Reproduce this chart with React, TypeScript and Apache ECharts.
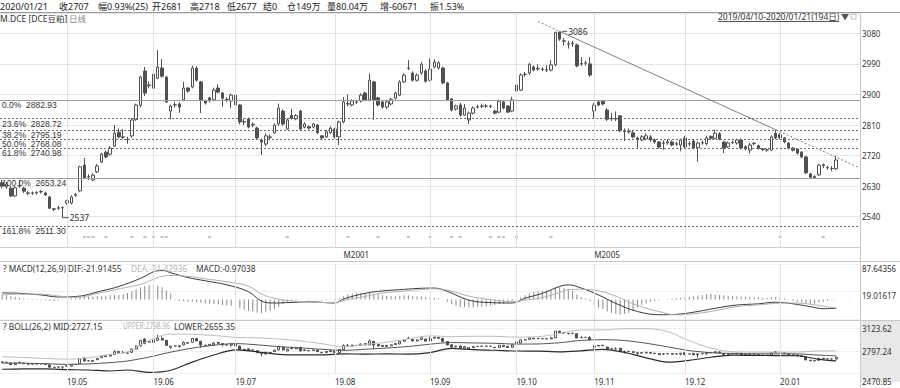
import React, { useEffect, useRef } from "react";
import * as echarts from "echarts";

// ---------------- data ----------------
const SLOTS = 199; // 194 trading days + empty room on the right
const opens = [2640,2628,2624,2601,2631,2624,2610,2609,2611,2613,
 2610,2598,2563,2565,2566,2580,2580,2603,2616,2692,
 2657,2648,2672,2701,2730,2724,2748,2789,2775,2768,
 2778,2826,2868,2969,2928,2918,2948,2978,2951,2851,
 2869,2872,2884,2919,2922,2978,2937,2881,2890,2884,
 2919,2904,2885,2881,2898,2869,2820,2828,2812,2801,
 2766,2754,2773,2787,2813,2851,2798,2839,2828,2851,
 2804,2805,2804,2810,2778,2775,2787,2798,2775,2819,
 2873,2869,2877,2881,2904,2884,2937,2890,2878,2863,
 2872,2889,2898,2937,2977,2963,2942,2963,2969,2942,
 2981,2978,2978,2934,2887,2857,2869,2839,2825,2845,
 2863,2865,2866,2865,2851,2848,2878,2866,2851,2928,
 2913,2959,2963,2981,2975,2975,2973,2972,2987,3084,
 3058,3049,3051,3046,2990,2992,2990,2851,2878,2880,
 2854,2829,2828,2837,2793,2790,2787,2772,2766,2769,
 2775,2766,2760,2757,2757,2760,2754,2751,2772,2754,
 2763,2743,2757,2755,2776,2771,2784,2760,2746,2758,
 2757,2766,2746,2736,2756,2749,2739,2736,2736,2786,
 2781,2772,2757,2742,2739,2730,2716,2666,2658,2663,
 2690,2684,2682,2681];
const closes = [2630,2636,2601,2625,2630,2615,2609,2610,2610,2614,
 2604,2565,2562,2566,2567,2587,2598,2605,2687,2654,
 2658,2662,2689,2724,2716,2742,2786,2775,2774,2766,
 2825,2869,2951,2904,2926,2960,2981,2954,2878,2866,
 2870,2863,2919,2910,2978,2942,2884,2875,2881,2913,
 2907,2889,2884,2898,2869,2819,2819,2804,2810,2772,
 2760,2778,2775,2810,2860,2813,2825,2830,2838,2798,
 2813,2801,2813,2787,2772,2790,2801,2775,2819,2878,
 2872,2881,2878,2898,2884,2942,2884,2869,2863,2878,
 2886,2904,2937,2957,2978,2942,2957,2989,2939,2975,
 2995,2993,2934,2884,2854,2866,2839,2860,2845,2860,
 2864,2866,2866,2866,2845,2880,2860,2848,2884,2910,
 2957,2960,2989,2972,2977,2974,2972,2987,3083,3063,
 3057,3048,3050,2984,2991,2993,2957,2869,2869,2872,
 2827,2828,2829,2793,2791,2792,2775,2766,2775,2778,
 2766,2760,2745,2756,2761,2751,2755,2766,2745,2755,
 2742,2757,2758,2772,2771,2786,2769,2742,2757,2759,
 2766,2742,2739,2751,2755,2741,2738,2737,2775,2772,
 2772,2760,2742,2736,2727,2716,2669,2656,2655,2692,
 2693,2685,2682,2707];
const lows = [2624,2622,2598,2598,2625,2610,2603,2604,2605,2608,
 2601,2562,2556,2560,2537,2575,2576,2598,2612,2650,
 2648,2645,2668,2698,2712,2720,2745,2770,2768,2755,
 2772,2822,2862,2895,2918,2884,2945,2950,2875,2827,
 2862,2846,2880,2905,2918,2938,2845,2870,2876,2880,
 2903,2864,2878,2859,2865,2812,2810,2800,2804,2768,
 2722,2748,2768,2784,2808,2808,2795,2826,2824,2795,
 2800,2796,2800,2784,2767,2772,2784,2770,2751,2815,
 2866,2865,2872,2876,2880,2880,2825,2865,2858,2857,
 2868,2885,2895,2934,2972,2938,2938,2958,2935,2938,
 2977,2974,2930,2880,2850,2852,2835,2836,2813,2841,
 2858,2860,2861,2860,2841,2845,2856,2845,2848,2900,
 2910,2952,2958,2968,2970,2969,2966,2968,2983,3058,
 3045,3035,3040,2980,2984,2985,2952,2831,2865,2868,
 2822,2822,2822,2789,2763,2785,2771,2743,2762,2765,
 2760,2755,2740,2737,2752,2747,2748,2733,2741,2748,
 2738,2702,2752,2750,2767,2768,2765,2727,2742,2754,
 2752,2738,2735,2726,2750,2738,2733,2731,2733,2768,
 2768,2756,2738,2732,2723,2712,2665,2653,2653,2660,
 2683,2678,2674,2677];
const highs = [2648,2642,2630,2630,2648,2628,2615,2614,2615,2618,
 2614,2601,2566,2572,2570,2590,2603,2610,2690,2713,
 2665,2668,2695,2728,2735,2748,2810,2800,2798,2775,
 2830,2873,2955,2981,2938,2963,3031,3004,2955,2870,
 2878,2877,2937,2922,2985,2983,2940,2885,2893,2920,
 2930,2908,2892,2903,2946,2872,2828,2832,2818,2805,
 2770,2785,2782,2815,2873,2856,2830,2858,2842,2855,
 2818,2808,2816,2813,2780,2795,2806,2802,2823,2892,
 2900,2886,2884,2903,2908,2962,2940,2893,2881,2884,
 2890,2908,2942,2962,3001,2968,2962,2995,2975,3006,
 3004,2998,2982,2937,2890,2870,2875,2872,2850,2865,
 2870,2873,2871,2870,2855,2885,2882,2869,2893,2932,
 2962,2966,2993,2986,2989,2980,2986,3001,3085,3086,
 3066,3058,3058,3050,3010,3000,3010,2875,2883,2884,
 2860,2845,2850,2840,2800,2800,2792,2776,2780,2785,
 2780,2770,2763,2765,2768,2765,2760,2770,2778,2762,
 2767,2762,2764,2778,2780,2796,2789,2763,2762,2764,
 2770,2770,2750,2757,2760,2752,2742,2740,2780,2796,
 2786,2775,2760,2745,2742,2733,2719,2669,2662,2695,
 2697,2690,2689,2718];

const monthStartIdx = [15, 35, 54, 77, 99, 119, 137, 158, 180];
const monthLabels = ["19.05", "19.06", "19.07", "19.08", "19.09", "19.10", "19.11", "19.12", "20.01"];
const rollIdx = [79, 137];
const rollLabels = ["M2001", "M2005"];

const fibPcts = ["0.0%", "23.6%", "38.2%", "50.0%", "61.8%", "100.0%", "161.8%"];
const fibLevels = [2882.93, 2828.72, 2795.19, 2768.08, 2740.98, 2653.24, 2511.3];
const fibSolid = [true, false, false, false, false, true, false];

const trendPoints = [[124, 3115], [129, 3086], [179, 2796], [198, 2686]];
const highMark = { idx: 129, value: 3086 };
const lowMark = { idx: 14, value: 2537 };

const eventIdx = [19, 20, 21, 24, 30, 33, 35, 37, 38, 48, 66, 80, 87, 94, 99, 104, 106, 113, 115, 116, 119, 127, 180, 190];
const EVENT_LEVEL = 2480;

const macdHist = [12,10,8,6,4,2,1,1,-1,-2,
 -3,-4,-4,-3,-1,1,3,4,6,7,
 7,7,8,8,9,10,11,11,13,16,
 20,25,30,33,35,36,34,30,22,14,
 -2,-4,-5,-6,-5,-7,-9,-10,-11,-12,
 -12,-14,-15,-16,-18,-22,-25,-28,-30,-33,
 -34,-32,-28,-24,-18,-12,-7,-4,-2,-1,
 0,1,0,-1,-2,-2,-1,-2,2,8,
 12,14,15,16,15,17,14,12,10,9,
 8,8,9,10,10,8,7,7,5,5,
 4,3,0,-6,-12,-15,-18,-19,-20,-20,
 -19,-18,-17,-15,-14,-12,-10,-8,-6,2,
 6,10,15,18,20,21,22,22,28,30,
 28,24,20,12,6,3,-4,-15,-20,-24,
 -30,-33,-36,-38,-36,-33,-28,-20,-14,-10,
 -6,-4,-2,0,1,2,3,4,5,6,
 7,9,11,13,14,12,11,10,9,9,
 8,7,6,6,5,5,4,4,5,6,
 5,3,1,-4,-6,-8,-11,-12,-11,-8,
 -6,-4,-2,-0.97038];
const difIdx = [0,4,9,13,17,23,27,32,35,37,39,43,47,52,57,60,63,66,71,77,79,84,88,92,96,100,103,108,113,118,121,125,129,131,134,138,142,147,152,156,161,165,170,175,179,183,187,190,193];
const difVals = [16,15,11,6,7,21,32,52,68,72,66,54,46,36,19,-4,-9,-8,-6,-9,1,15,21,24,27,28,20,-2,-8,-9,3,15,32,36,28,11,-10,-30,-38,-37,-30,-22,-14,-11,-7,-11,-18,-23,-21.91455];
const deaVals = [11,13,13,8.5,5,17,26,37,50,57,59,57,51,43.5,33,13,3,-3,-6.5,-8,-3,7.5,16,19.5,23.5,26,23,8,-0.5,-6,-2,4.5,17,24,25,21,8,-15,-30,-38.5,-34.5,-28,-18,-13.5,-10,-9,-12,-17,-21.42936];

const bollIdx = [0,5,10,15,20,25,29,34,39,44,49,54,59,64,69,74,79,84,89,94,99,104,109,114,119,124,129,134,139,144,149,154,159,164,169,174,179,184,189,193];
const bollMid = [2625,2622,2615,2605,2612,2630,2654,2710,2781,2838,2880,2904,2886,2860,2842,2822,2806,2822,2840,2862,2895,2919,2913,2908,2897,2899,2916,2950,2960,2948,2909,2857,2803,2773,2762,2757,2756,2755,2738,2727.15];
const bollUpper = [2715,2705,2690,2680,2700,2750,2784,2950,3041,3038,3020,2994,2986,2970,2942,2902,2856,2892,2924,2972,3015,3003,3009,3008,2997,3003,3046,3100,3100,3118,3119,3077,2943,2839,2786,2781,2780,2781,2798,2798.96];
const bollLower = [2535,2539,2540,2530,2524,2510,2524,2490,2521,2638,2740,2814,2786,2750,2742,2742,2756,2752,2756,2752,2775,2835,2817,2808,2797,2795,2786,2800,2820,2778,2699,2637,2663,2707,2738,2733,2732,2729,2678,2655.35];

const headerItems = ["2020/01/21", "收2707", "幅0.93%(25)", "开2681", "高2718", "低2677", "结0", "仓149万", "量80.04万", "增-60671", "振1.53%"];
const titleMain = "M.DCE [DCE豆粕]";
const titlePeriod = "日线";
const rangeText = "2019/04/10-2020/01/21(194日)";
const macdTitle = ["? MACD(12,26,9) DIF:-21.91455", "DEA:-21.42936", "MACD:-0.97038"];
const bollTitle = ["? BOLL(26,2) MID:2727.15", "UPPER:2798.96", "LOWER:2655.35"];
const bollBottomLabel = "2470.85";

// ---------------- layout ----------------
const FONT = "'Noto Sans', 'Noto Sans CJK SC', sans-serif";
const FIB_FONT = "'Liberation Sans', Arial, sans-serif";
const headerX = [0, 59, 98, 152, 190, 227, 263, 287, 327, 380, 430];
const macdTitleX = [3, 131, 196];
const bollTitleX = [3, 123, 174];

export default function App() {
  const ref = useRef<HTMLDivElement>(null);
  useEffect(() => {
    const chart = echarts.init(ref.current as HTMLDivElement, undefined, { renderer: "svg" });
    const xData = Array.from({ length: SLOTS }, (_, i) => String(i));
    const kData = opens.map((o, i) => [o, closes[i], lows[i], highs[i]]);

    const monthLines = monthStartIdx.map((i) => ({
      xAxis: i,
      lineStyle: { color: "#e2e2e2", type: "solid", width: 1 },
      label: { show: false },
    }));
    const fibLines = fibLevels.map((lv, k) => ({
      yAxis: lv,
      lineStyle: fibSolid[k]
        ? { color: "#a0a0a0", type: "solid", width: 1 }
        : { color: "#6a6a6a", type: [2, 2], width: 1 },
      label: {
        show: true,
        position: "insideStartBottom",
        formatter: fibPcts[k] + "  " + lv.toFixed(2),
        color: "#333",
        fontSize: 8.5,
        lineHeight: 8,
        fontFamily: FIB_FONT,
        distance: [2, 1],
      },
    }));
    const segStyle = (dotted: boolean) => ({ color: "#808080", width: 1, type: dotted ? [2, 2] : "solid" });
    const trendSegs = [0, 1, 2].map((k) => {
      const st = segStyle(k !== 1);
      return [
        { coord: trendPoints[k], lineStyle: st, label: { show: false } },
        { coord: trendPoints[k + 1], lineStyle: st, label: { show: false } },
      ];
    });

    const txt = (text: string, x: number, y: number, fill = "#222", fontSize = 9, scaleX = 1) => ({
      type: "text",
      x,
      y,
      scaleX,
      silent: true,
      style: { text, fill, fontSize, fontFamily: FONT, verticalAlign: "middle", align: "left" },
      z: 100,
    });
    const hline = (y: number, x1: number, x2: number, color: string) => ({
      type: "line",
      silent: true,
      shape: { x1, y1: y, x2, y2: y },
      style: { stroke: color, lineWidth: 1 },
      z: 50,
    });

    const graphic: any[] = [
      { type: "rect", silent: true, z: -10, shape: { x: 860, y: 320, width: 40, height: 62 }, style: { fill: "#e8e8e8" } },
      hline(12.5, 0, 900, "#9a9a9a"),
      hline(261.5, 0, 900, "#c8c8c8"),
      hline(320.5, 0, 900, "#c8c8c8"),
      { type: "line", silent: true, z: 50, shape: { x1: 860.5, y1: 12, x2: 860.5, y2: 388 }, style: { stroke: "#c8c8c8", lineWidth: 1 } },
      ...headerItems.map((t, k) => txt(t, headerX[k], 6, "#222", 9)),
      txt(titleMain, 0, 18.5, "#333", 8.5),
      txt(titlePeriod, 69, 18.5, "#888", 8.5),
      txt(rangeText, 718, 16.5, "#333", 8.5),
      hline(21.5, 718, 839, "#555"),
      txt("▼", 841, 16.5, "#555", 8),
      { type: "rect", silent: true, z: 50, shape: { x: 851, y: 14, width: 5, height: 5 }, style: { fill: "#fff", stroke: "#bbb", lineWidth: 1 } },
      txt(macdTitle[0], macdTitleX[0], 268, "#333", 8.3),
      txt(macdTitle[1], macdTitleX[1], 268, "#b5b5b5", 8.3),
      txt(macdTitle[2], macdTitleX[2], 268, "#333", 8.3),
      txt(bollTitle[0], bollTitleX[0], 326, "#333", 8.3),
      txt(bollTitle[1], bollTitleX[1], 326, "#b5b5b5", 8.3, 0.8),
      txt(bollTitle[2], bollTitleX[2], 326, "#333", 8.3),
      txt(bollBottomLabel, 862, 381, "#333", 8),
    ];

    const catAxisBase = {
      type: "category",
      data: xData,
      boundaryGap: true,
      axisTick: { show: false },
      splitLine: { show: false },
    };
    const axisText = { color: "#333", fontSize: 8, fontFamily: FONT };

    const option: any = {
      animation: false,
      backgroundColor: "#ffffff",
      textStyle: { fontFamily: FONT },
      grid: [
        { left: 0, right: 40, top: 13, height: 234.2 },
        { left: 0, right: 40, top: 264, height: 55.4 },
        { left: 0, right: 40, top: 320, height: 53.7 },
      ],
      xAxis: [
        {
          ...catAxisBase,
          gridIndex: 0,
          axisLine: { show: true, lineStyle: { color: "#cfcfcf" } },
          axisLabel: {
            ...axisText,
            interval: (i: number) => rollIdx.includes(i),
            formatter: (_v: string, i: number) => rollLabels[rollIdx.indexOf(i)] || "",
            align: "left",
            margin: 3,
          },
        },
        { ...catAxisBase, gridIndex: 1, axisLine: { show: false }, axisLabel: { show: false } },
        {
          ...catAxisBase,
          gridIndex: 2,
          axisLine: { show: false },
          axisLabel: {
            ...axisText,
            interval: (i: number) => monthStartIdx.includes(i),
            formatter: (_v: string, i: number) => monthLabels[monthStartIdx.indexOf(i)] || "",
            align: "left",
            margin: 4,
          },
        },
      ],
      yAxis: [
        {
          gridIndex: 0,
          type: "value",
          position: "right",
          min: 2450,
          max: 3140,
          interval: 90,
          axisLine: { show: false },
          axisTick: { show: false },
          axisLabel: { ...axisText, margin: 2, showMinLabel: false, showMaxLabel: false, formatter: (v: number) => String(Math.round(v)) },
          splitLine: { lineStyle: { color: "#e6e6e6" } },
        },
        {
          gridIndex: 1,
          type: "value",
          position: "right",
          min: -49.61122,
          max: 87.64356,
          interval: 68.62739,
          axisLine: { show: false },
          axisTick: { show: false },
          axisLabel: { ...axisText, margin: 2, verticalAlign: "top", showMinLabel: false, formatter: (v: number) => v.toFixed(5) },
          splitLine: { lineStyle: { color: "#efefef" } },
        },
        {
          gridIndex: 2,
          type: "value",
          position: "right",
          min: 2470.85,
          max: 3242.96,
          interval: 326.386,
          axisLine: { show: false },
          axisTick: { show: false },
          axisLabel: { ...axisText, margin: 2, showMinLabel: false, showMaxLabel: false, formatter: (v: number) => v.toFixed(2) },
          splitLine: { lineStyle: { color: "#efefef" } },
        },
      ],
      series: [
        {
          type: "candlestick",
          xAxisIndex: 0,
          yAxisIndex: 0,
          data: kData,
          barWidth: 3,
          itemStyle: { color: "#ffffff", color0: "#505050", borderColor: "#505050", borderColor0: "#505050", borderWidth: 1 },
          markLine: {
            silent: true,
            symbol: ["none", "none"],
            label: { show: false },
            data: [...monthLines, ...fibLines, ...trendSegs],
          },
          markPoint: {
            silent: true,
            data: [
              {
                coord: [highMark.idx, highMark.value],
                symbol: "rect",
                symbolSize: [5, 1],
                symbolOffset: [5, 0],
                itemStyle: { color: "#555" },
                label: { show: true, position: "right", distance: 1, formatter: String(highMark.value), color: "#333", fontSize: 8.5, fontFamily: FONT },
              },
              {
                coord: [lowMark.idx, lowMark.value],
                symbol: "rect",
                symbolSize: [6, 1],
                symbolOffset: [3, 0],
                itemStyle: { color: "#555" },
                label: { show: true, position: "right", distance: 1, formatter: String(lowMark.value), color: "#333", fontSize: 8.5, fontFamily: FONT },
              },
            ],
          },
        },
        {
          type: "scatter",
          xAxisIndex: 0,
          yAxisIndex: 0,
          silent: true,
          symbol: "rect",
          symbolSize: [3, 1.5],
          itemStyle: { color: "#9a9a9a" },
          data: eventIdx.map((i) => [i, EVENT_LEVEL]),
        },
        {
          type: "bar",
          xAxisIndex: 1,
          yAxisIndex: 1,
          barWidth: 1,
          silent: true,
          itemStyle: { color: "#8a8a8a" },
          data: macdHist,
          markLine: { silent: true, symbol: ["none", "none"], label: { show: false }, data: monthLines },
        },
        {
          type: "line",
          xAxisIndex: 1,
          yAxisIndex: 1,
          showSymbol: false,
          smooth: 0.4,
          silent: true,
          lineStyle: { color: "#3a3a3a", width: 1 },
          data: difIdx.map((i, k) => [i, difVals[k]]),
        },
        {
          type: "line",
          xAxisIndex: 1,
          yAxisIndex: 1,
          showSymbol: false,
          smooth: 0.4,
          silent: true,
          lineStyle: { color: "#b0b0b0", width: 1 },
          data: difIdx.map((i, k) => [i, deaVals[k]]),
        },
        {
          type: "candlestick",
          xAxisIndex: 2,
          yAxisIndex: 2,
          data: kData,
          barWidth: 2.5,
          silent: true,
          itemStyle: { color: "#ffffff", color0: "#505050", borderColor: "#505050", borderColor0: "#505050", borderWidth: 1 },
          markLine: { silent: true, symbol: ["none", "none"], label: { show: false }, data: monthLines },
        },
        {
          type: "line", xAxisIndex: 2, yAxisIndex: 2, showSymbol: false, smooth: 0.3, silent: true,
          lineStyle: { color: "#bdbdbd", width: 1 },
          data: bollIdx.map((i, k) => [i, bollUpper[k]]),
        },
        {
          type: "line", xAxisIndex: 2, yAxisIndex: 2, showSymbol: false, smooth: 0.3, silent: true,
          lineStyle: { color: "#555", width: 1 },
          data: bollIdx.map((i, k) => [i, bollMid[k]]),
        },
        {
          type: "line", xAxisIndex: 2, yAxisIndex: 2, showSymbol: false, smooth: 0.3, silent: true,
          lineStyle: { color: "#2a2a2a", width: 1.2 },
          data: bollIdx.map((i, k) => [i, bollLower[k]]),
        },
      ],
      graphic,
    };
    chart.setOption(option);
    return () => chart.dispose();
  }, []);
  return (
    <div
      ref={ref}
      style={{ position: "fixed", left: 0, top: 0, width: 900, height: 388, background: "#fff" }}
    />
  );
}
